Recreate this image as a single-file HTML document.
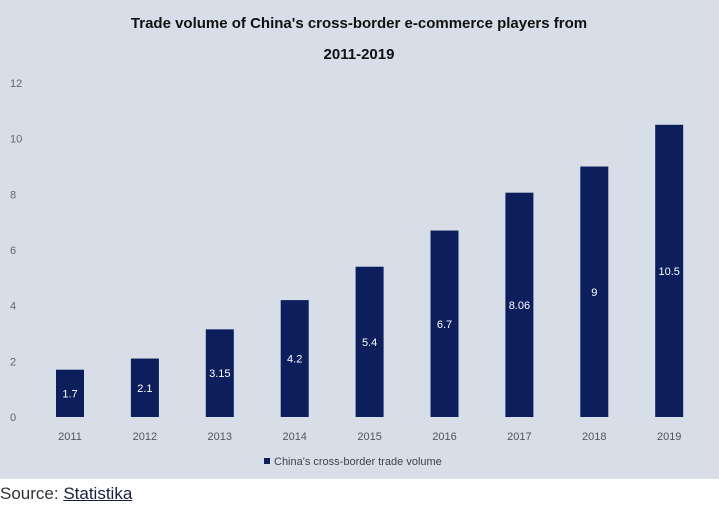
<!DOCTYPE html>
<html><head><meta charset="utf-8"><style>
body{margin:0;width:719px;height:512px;overflow:hidden;background:#fff;font-family:"Liberation Sans",sans-serif}
#chart{position:absolute;left:0;top:0;width:719px;height:479px;background:#d7dee8}
#src{position:absolute;left:0;top:484px;font-size:17px;color:#333}
#src a{color:#1a1f3d;text-decoration:underline}
</style></head><body>
<div id="chart">
<svg id="svg" width="719" height="479">
<text x="359" y="28" text-anchor="middle" font-size="15" font-weight="bold" fill="#111">Trade volume of China's cross-border e-commerce players from</text>
<text x="359" y="59" text-anchor="middle" font-size="15" font-weight="bold" fill="#111">2011-2019</text>
<g id="yt"></g><g id="bars"></g>
<rect x="264" y="458" width="6" height="6" fill="#0c1f5c"/>
<text x="274" y="465" font-size="11" fill="#444">China's cross-border trade volume</text>
</svg>
</div>
<div id="src">Source: <a>Statistika</a></div>
<script>
const categories=["2011","2012","2013","2014","2015","2016","2017","2018","2019"];
const values=[1.7,2.1,3.15,4.2,5.4,6.7,8.06,9,10.5];
const labels=["1.7","2.1","3.15","4.2","5.4","6.7","8.06","9","10.5"];
const yTicks=[0,2,4,6,8,10,12];
const NS="http://www.w3.org/2000/svg";
const y=v=>417-v*27.83;
const x=i=>70+i*74.9;
function mk(t,a,p,txt){const e=document.createElementNS(NS,t);for(const k in a)e.setAttribute(k,a[k]);if(txt!=null)e.textContent=txt;p.appendChild(e);return e;}
const yt=document.getElementById('yt'),bars=document.getElementById('bars');
yTicks.forEach(t=>{const e=mk('text',{x:10,y:y(t)+4,'font-size':11,fill:'#666'},yt,t);

});
categories.forEach((c,i)=>{
const r=mk('rect',{x:x(i)-14,y:y(values[i]),width:28,height:417-y(values[i]),fill:'#0c1f5c'},bars);


const l=mk('text',{x:x(i),y:(y(values[i])+417)/2+4,'text-anchor':'middle','font-size':11,fill:'#fff'},bars,labels[i]);


const t=mk('text',{x:x(i),y:440,'text-anchor':'middle','font-size':11,fill:'#555'},bars,c);


});
</script>
</body></html>
